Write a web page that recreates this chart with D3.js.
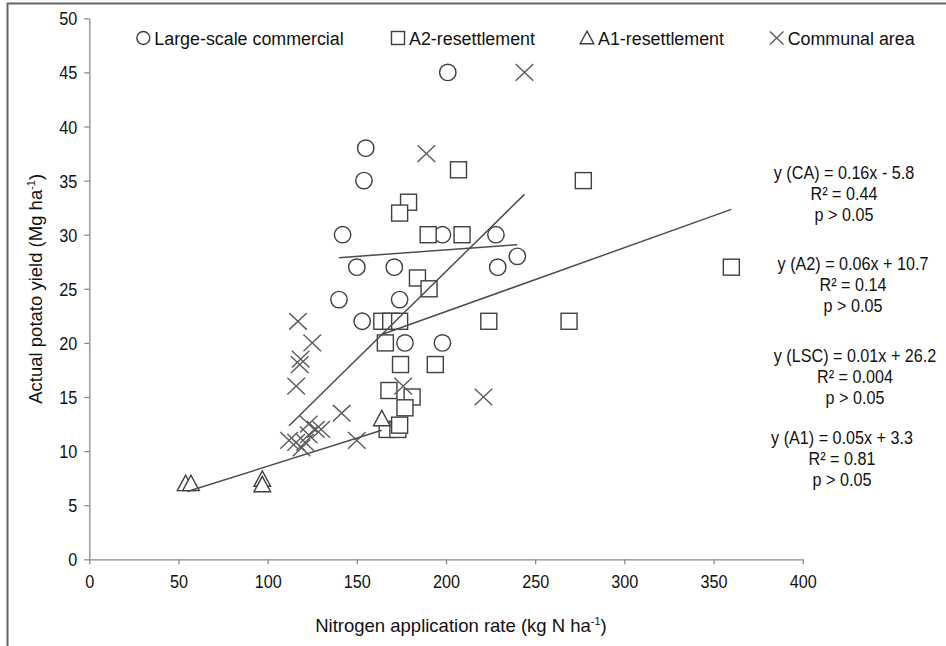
<!DOCTYPE html>
<html><head><meta charset="utf-8">
<script src="https://cdn.jsdelivr.net/npm/d3@7"></script>
<style>
body{margin:0;background:#fff}
text{font-family:"Liberation Sans",Arial,sans-serif;fill:#111}
</style>
</head><body>
<svg id="c" width="946" height="646"></svg>
<script>
// ---- data ----
const xTicks = [0,50,100,150,200,250,300,350,400];
const yTicks = [0,5,10,15,20,25,30,35,40,45,50];

const seriesNames = ["Large-scale commercial","A2-resettlement","A1-resettlement","Communal area"];

const lscX = [201,155,154,142,198,228,150,171,229,240,140,174,153,177,198];
const lscY = [45,38,35,30,30,30,27,27,27,28,24,24,22,20,20];

const a2X = [207,179,174,190,209,277,184,190.5,164,169,174,224,269,360,166,174.5,194,168,181,177,167,173,174];
const a2Y = [36,33,32,30,30,35,26,25,22,22,22,22,22,27,20,18,18,15.6,15,14,12,12,12.4];

const a1X = [54,57,97,97,164];
const a1Y = [7,7,7.4,6.9,13];

const caX = [244,189,117,125,118.5,118,116,176,221,141.5,150,112,116,119,121,123,123,127,130];
const caY = [45,37.5,22,20,18.5,18,16,16,15,13.5,11,11,10.8,10.3,10.8,11.5,12.5,12,12];

// trendlines (CA, A2, LSC, A1)
const trendSlope = [0.162,0.059,0.012,0.052];
const trendIntercept = [-5.8,11.1,26.2,3.4];
const trendFrom = [112,164,140,55];
const trendTo = [244,360,240,164];

const eqLine1 = ["y (CA) = 0.16x - 5.8","y (A2) = 0.06x + 10.7","y (LSC) = 0.01x + 26.2","y (A1) = 0.05x + 3.3"];
const eqLine2 = ["R² = 0.44","R² = 0.14","R² = 0.004","R² = 0.81"];
const eqLine3 = ["p > 0.05","p > 0.05","p > 0.05","p > 0.05"];

// ---- drawing ----
const svg = d3.select("#c");
const x = d3.scaleLinear().domain([0,400]).range([89.3,802.7]);
const y = d3.scaleLinear().domain([0,50]).range([559.3,18.3]);

// frame (top + left)
svg.append("path").attr("d","M7.5,646V3.5H946").attr("fill","none")
  .attr("stroke","#666").attr("stroke-width",2);

// axes
const axisColor = "#8a8a8a";
const gx = svg.append("g").attr("transform",`translate(0,${y(0)})`)
  .call(d3.axisBottom(x).tickValues(xTicks).tickSize(5).tickSizeOuter(0));
gx.selectAll("text").attr("y",null).attr("dy",null)
  .attr("transform","translate(0,29) scale(0.9,1)")
  .style("font-size","18px").attr("fill","#111");
const gy = svg.append("g").attr("transform",`translate(${x(0)},0)`)
  .call(d3.axisLeft(y).tickValues(yTicks).tickSize(5).tickSizeOuter(0));
gy.selectAll("text").attr("x",null).attr("dy",null)
  .attr("transform","translate(-12,6.5) scale(0.9,1)")
  .style("font-size","18px").attr("fill","#111");
[gx,gy].forEach(g=>{
  g.select(".domain").attr("stroke",axisColor).attr("stroke-width",1.3);
  g.selectAll(".tick line").attr("stroke",axisColor).attr("stroke-width",1.3);
  g.attr("font-family",null).attr("font-size",null);
});

// axis titles
const xt = svg.append("text").attr("x",461).attr("y",632).attr("text-anchor","middle")
  .style("font-size","18.5px");
xt.append("tspan").text("Nitrogen application rate (kg N ha");
xt.append("tspan").attr("dy",-7).style("font-size","11px").text("-1");
xt.append("tspan").attr("dy",7).text(")");

const yt = svg.append("text").attr("transform",`translate(42,${(y(0)+y(50))/2}) rotate(-90)`)
  .attr("text-anchor","middle").style("font-size","18.5px");
yt.append("tspan").text("Actual potato yield (Mg ha");
yt.append("tspan").attr("dy",-7).style("font-size","11px").text("-1");
yt.append("tspan").attr("dy",7).text(")");

// marker helpers
const mStroke = "#3f3f3f", xStroke = "#5a5a5a";
function circleM(g,s){ return g.append("circle").attr("r",s).attr("fill","#fff").attr("stroke",mStroke).attr("stroke-width",1.4); }
function squareM(g,s){ return g.append("rect").attr("x",-s).attr("y",-s).attr("width",2*s).attr("height",2*s).attr("fill","#fff").attr("stroke",mStroke).attr("stroke-width",1.4); }
function triM(g,s){ return g.append("path").attr("d",`M0,${-s}L${s},${s*0.85}L${-s},${s*0.85}Z`).attr("fill","#fff").attr("stroke",mStroke).attr("stroke-width",1.4); }
function crossM(g,s){ return g.append("path").attr("d",`M${-s},${-s*0.95}L${s},${s*0.95}M${-s},${s*0.95}L${s},${-s*0.95}`).attr("fill","none").attr("stroke",xStroke).attr("stroke-width",1.4); }

const plot = svg.append("g");
function drawSeries(xs,ys,fn,s){
  xs.forEach((v,i)=>{
    const g = plot.append("g").attr("transform",`translate(${x(v)},${y(ys[i])})`);
    fn(g,s);
  });
}
drawSeries(lscX,lscY,circleM,8.2);
drawSeries(a2X,a2Y,squareM,8);
drawSeries(a1X,a1Y,triM,8.3);
drawSeries(caX,caY,crossM,8.8);

// trendlines
trendSlope.forEach((m,i)=>{
  const b = trendIntercept[i];
  svg.append("line")
    .attr("x1",x(trendFrom[i])).attr("y1",y(m*trendFrom[i]+b))
    .attr("x2",x(trendTo[i])).attr("y2",y(m*trendTo[i]+b))
    .attr("stroke","#4d4d4d").attr("stroke-width",1.5);
});

// legend
const legX = [143.3,398,587,776.7];
const legFns = [circleM,squareM,triM,crossM];
const legSizes = [6.5,6.5,6.8,6.8];
seriesNames.forEach((n,i)=>{
  const g = svg.append("g").attr("transform",`translate(${legX[i]},38)`);
  legFns[i](g,legSizes[i]);
  g.append("text").attr("transform","translate(11,7) scale(0.94,1)").style("font-size","19px").text(n);
});

// equations
const eqCx = [844,853,855,842];
const eqCy = [171.7,263.3,355,436.7];
eqLine1.forEach((t,i)=>{
  [t,eqLine2[i],eqLine3[i]].forEach((s,j)=>{
    svg.append("text").attr("transform",`translate(${eqCx[i]},${eqCy[i]+7+j*21}) scale(0.85,1)`)
      .attr("text-anchor","middle").style("font-size","19px").text(s);
  });
});
</script>
</body></html>
